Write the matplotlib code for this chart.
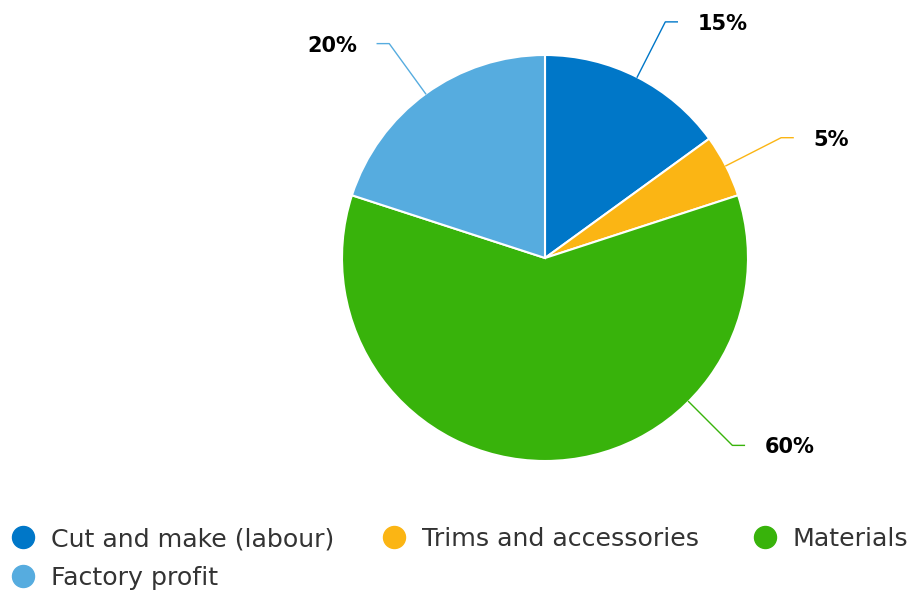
import numpy as np
import matplotlib.pyplot as plt

# cost breakdown (share of price, %)
categories = ['Cut and make (labour)', 'Trims and accessories', 'Materials', 'Factory profit']
shares = [15, 5, 60, 20]
colors = ['#0077c8', '#fbb514', '#38b30b', '#56acdf']

W, H = 912, 592
fig = plt.figure(figsize=(W / 100, H / 100), dpi=100)
ax = fig.add_axes([0, 0, 1, 1])
ax.axis('off')

cx, cy, R = 545, H - 258, 203
wedges, _ = ax.pie(shares, colors=colors, startangle=90, counterclock=False,
                   center=(cx, cy), radius=R,
                   wedgeprops=dict(edgecolor='white', linewidth=1.5))
ax.set_xlim(0, W)
ax.set_ylim(0, H)
ax.set_aspect('equal')

# data labels with elbow connectors
nudge = {2: 45}  # 60% label pushed up off the bottom (degrees)
for i, w in enumerate(wedges):
    ang = (w.theta1 + w.theta2) / 2 + nudge.get(i, 0)
    a = np.deg2rad(ang)
    x0, y0 = cx + R * np.cos(a), cy + R * np.sin(a)
    x1, y1 = cx + 265 * np.cos(a), cy + 265 * np.sin(a)
    side = 1 if np.cos(a) >= 0 else -1
    x2 = x1 + side * 12
    ax.plot([x0, x1, x2], [y0, y1, y1], color=colors[i], lw=1, solid_joinstyle='round')
    ax.text(x2 + side * 20, y1 - 2, f'{shares[i]}%', ha='left' if side > 0 else 'right',
            va='center', fontsize=15, fontweight='bold', color='#000000')

# legend, laid out row by row like the original
col_x = [23, 394, 765]
row_y = [H - 537, H - 576]
for i, (lab, c) in enumerate(zip(categories, colors)):
    x, y = col_x[i % 3], row_y[i // 3]
    ax.scatter([x], [y], s=(22 * 0.72) ** 2, color=c, zorder=3)
    ax.text(x + 28, y, lab, ha='left', va='center_baseline', fontsize=18.2, color='#333333')

fig.savefig('out.png', dpi=100)
